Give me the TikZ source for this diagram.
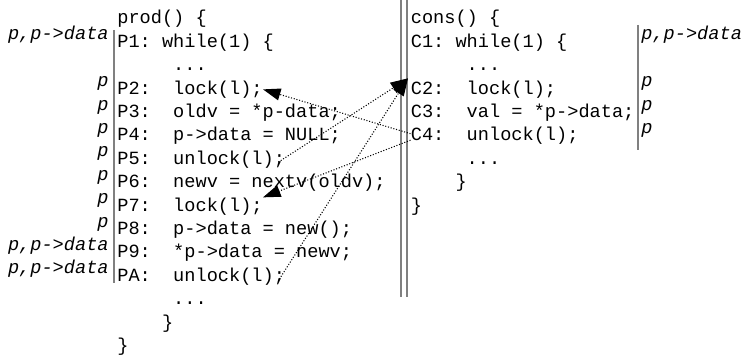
\documentclass[tikz,border=0pt]{standalone}
\usepackage{fontspec}
\setmonofont{Liberation Mono}
\usetikzlibrary{arrows.meta}

\tikzset{
  code/.style={anchor=base west,inner sep=0pt,font=\fontsize{10.6}{12}\selectfont\ttfamily},
  lvar/.style={anchor=base east,inner sep=0pt,font=\fontsize{10.6}{12}\selectfont\ttfamily\itshape},
  rvar/.style={anchor=base west,inner sep=0pt,font=\fontsize{10.6}{12}\selectfont\ttfamily\itshape},
  bar/.style={draw=gray,line width=0.8pt},
  handoff/.style={densely dotted,semithick,-{Triangle[length=3.5mm,width=2.4mm]}}
}

\begin{document}
\begin{tikzpicture}
			\useasboundingbox (0,0) rectangle (14.92,7.1);
			% producer
			\node[code] (prod) at (2.34,6.62) {prod()~\{};
			\node[code] (p1) at (2.34,6.152) {P1:~while(1)~\{};
			\node[code] (pdots1) at (2.34,5.684) {~~~~~...};
			\node[code] (p2) at (2.34,5.216) {P2:~~lock(l);};
			\node[code] (p3) at (2.34,4.748) {P3:~~oldv~=~*p-data;};
			\node[code] (p4) at (2.34,4.28) {P4:~~p->data~=~NULL;};
			\node[code] (p5) at (2.34,3.812) {P5:~~unlock(l);};
			\node[code] (p6) at (2.34,3.344) {P6:~~newv~=~nextv(oldv);};
			\node[code] (p7) at (2.34,2.876) {P7:~~lock(l);};
			\node[code] (p8) at (2.34,2.408) {P8:~~p->data~=~new();};
			\node[code] (p9) at (2.34,1.94) {P9:~~*p->data~=~newv;};
			\node[code] (pa) at (2.34,1.472) {PA:~~unlock(l);};
			\node[code] (pdots2) at (2.34,1.004) {~~~~~...};
			\node[code] (pwend) at (2.34,0.536) {~~~~\}};
			\node[code] (pend) at (2.34,0.068) {\}};
			% producer variables
			\node[lvar] (lv1) at (2.18,6.302) {p,p->data};
			\node[lvar] (lv2) at (2.18,5.366) {p};
			\node[lvar] (lv3) at (2.18,4.898) {p};
			\node[lvar] (lv4) at (2.18,4.43) {p};
			\node[lvar] (lv5) at (2.18,3.962) {p};
			\node[lvar] (lv6) at (2.18,3.494) {p};
			\node[lvar] (lv7) at (2.18,3.026) {p};
			\node[lvar] (lv8) at (2.18,2.558) {p};
			\node[lvar] (lv9) at (2.18,2.09) {p,p->data};
			\node[lvar] (lva) at (2.18,1.622) {p,p->data};
			% consumer
			\node[code] (cons) at (8.21,6.62) {cons()~\{};
			\node[code] (c1) at (8.21,6.152) {C1:~while(1)~\{};
			\node[code] (cdots1) at (8.21,5.684) {~~~~~...};
			\node[code] (c2) at (8.21,5.216) {C2:~~lock(l);};
			\node[code] (c3) at (8.21,4.748) {C3:~~val~=~*p->data;};
			\node[code] (c4) at (8.21,4.28) {C4:~~unlock(l);};
			\node[code] (cdots2) at (8.21,3.812) {~~~~~...};
			\node[code] (cwend) at (8.21,3.344) {~~~~\}};
			\node[code] (cend) at (8.21,2.876) {\}};
			% consumer variables
			\node[rvar] (rv1) at (12.82,6.302) {p,p->data};
			\node[rvar] (rv2) at (12.82,5.366) {p};
			\node[rvar] (rv3) at (12.82,4.898) {p};
			\node[rvar] (rv4) at (12.82,4.43) {p};
			% bars
			\draw[bar] (2.28,6.5) -- (2.28,1.44);
			\draw[bar] (8.02,7.1) -- (8.02,1.16);
			\draw[bar] (8.14,7.1) -- (8.14,1.16);
			\draw[bar] (12.76,6.6) -- (12.76,4.1);
			% lock hand-offs
			\draw[handoff] ([yshift=0.05cm]c4.west) -- (p2.east);
			\draw[handoff] ([shift={(-0.14,-0.05)}]p5.east) -- ([shift={(-0.05,0.04)}]c2.north west);
			\draw[handoff] ([yshift=-0.08cm]c4.west) -- (p7.north east);
			\draw[handoff] ([shift={(-0.12,-0.05)}]pa.east) -- ([shift={(-0.05,0.04)}]c2.north west);
		\end{tikzpicture}
\end{document}
